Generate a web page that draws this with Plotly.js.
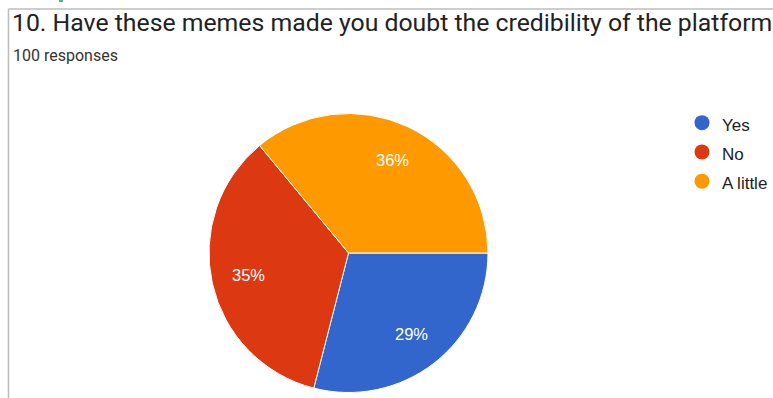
<!DOCTYPE html>
<html>
<head>
<meta charset="utf-8">
<script src="https://cdn.plot.ly/plotly-3.0.1.min.js"></script>
<style>html,body{margin:0;padding:0;background:#fff;}#chart{width:773px;height:398px;}</style>
</head>
<body>
<div id="chart"></div>
<script>
const labels = ["Yes", "No", "A little"];
const values = [29, 35, 36];
const colors = ["#3366CC", "#DC3912", "#FF9900"];
const titleText = "10. Have these memes made you doubt the credibility of the platform?";
const subtitleText = "100 responses";

const W = 773, H = 398;
const cx = 348.5, cy = 253, r = 139.5;
const startAngle = 90; // clock angle of first slice start (3 o'clock)
const labelRadius = 0.735;

const pie = {
  type: "pie",
  labels: labels,
  values: values,
  sort: false,
  direction: "clockwise",
  rotation: startAngle,
  marker: {colors: colors, line: {color: "#ffffff", width: 1}},
  textinfo: "none",
  showlegend: false,
  hoverinfo: "label+percent",
  domain: {x: [(cx - r) / W, (cx + r) / W], y: [(H - cy - r) / H, (H - cy + r) / H]}
};

// percentage labels placed at each slice's mid-angle, derived from the values
const total = values.reduce((a, b) => a + b, 0);
let cum = 0;
const pctAnnotations = values.map((v) => {
  const mid = startAngle + (cum + v / 2) / total * 360;
  cum += v;
  const rad = mid * Math.PI / 180;
  const d = labelRadius * r;
  return {
    text: Math.round(v / total * 100) + "%",
    xref: "paper", yref: "paper",
    x: (cx + Math.sin(rad) * d) / W,
    y: (H - cy + Math.cos(rad) * d) / H,
    xanchor: "center", yanchor: "middle",
    showarrow: false,
    font: {family: "Liberation Sans, Arial, sans-serif", size: 16.5, color: "#ffffff"}
  };
});

const legendTraces = labels.map((l, i) => ({
  type: "scatter",
  mode: "markers",
  x: [null], y: [null],
  name: '<span style="font-size:17px">' + l + '</span>',
  marker: {color: colors[i], size: 15, symbol: "circle"},
  showlegend: true,
  hoverinfo: "skip"
}));

const layout = {
  width: W, height: H,
  margin: {l: 0, r: 0, t: 0, b: 0},
  paper_bgcolor: "#ffffff",
  plot_bgcolor: "rgba(0,0,0,0)",
  xaxis: {visible: false},
  yaxis: {visible: false},
  title: {
    text: titleText,
    font: {family: "Roboto, sans-serif", size: 24.8, color: "#222222"},
    x: 12 / W, xanchor: "left", xref: "container",
    y: 1 - 22 / H, yanchor: "middle", yref: "container"
  },
  annotations: [{
    text: subtitleText, xref: "paper", yref: "paper",
    x: 11 / W, y: 1 - 56 / H, xanchor: "left", yanchor: "middle",
    showarrow: false,
    font: {family: "Roboto, sans-serif", size: 16, color: "#333333"}
  }].concat(pctAnnotations),
  shapes: [
    {type: "line", xref: "paper", yref: "paper", x0: 8.5 / W, x1: 1.01, y0: 1 - 9 / H, y1: 1 - 9 / H, line: {color: "#bdbdbd", width: 1.5}},
    {type: "line", xref: "paper", yref: "paper", x0: 8.5 / W, x1: 8.5 / W, y0: 1 - 9 / H, y1: -0.01, line: {color: "#bdbdbd", width: 1.5}},
    {type: "rect", xref: "paper", yref: "paper", x0: 59 / W, x1: 63 / W, y0: 1 - 2 / H, y1: 1.01, line: {width: 0}, fillcolor: "#52b788"}
  ],
  showlegend: true,
  legend: {
    x: 682 / W, xanchor: "left",
    y: 1 - 103 / H, yanchor: "top",
    font: {family: "Liberation Sans, Arial, sans-serif", size: 20.2, color: "#222222"},
    bgcolor: "rgba(0,0,0,0)",
    itemclick: false
  }
};

Plotly.newPlot("chart", [pie].concat(legendTraces), layout, {displayModeBar: false, staticPlot: true});
</script>
</body>
</html>
